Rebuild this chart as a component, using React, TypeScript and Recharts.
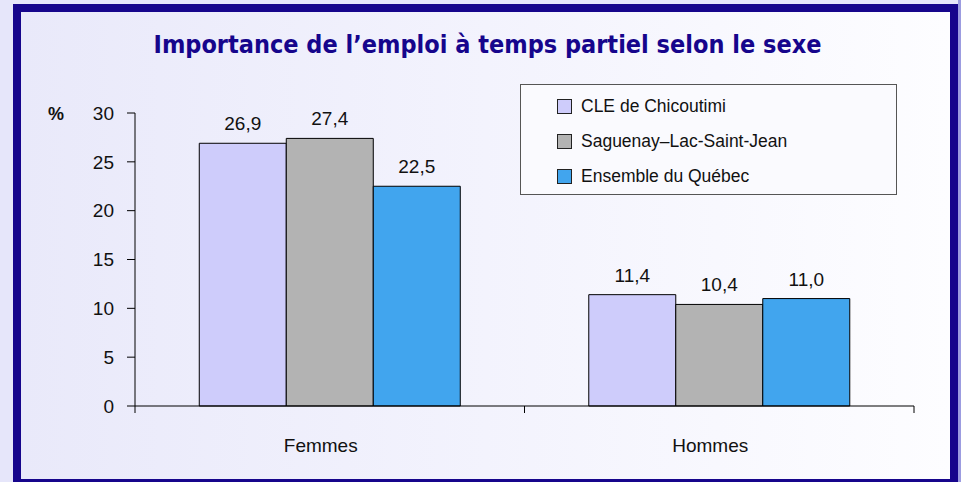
import { BarChart, Bar, XAxis, YAxis, Legend, LabelList } from 'recharts'

const categories = ['Femmes', 'Hommes']
const chicoutimi = [26.9, 11.4]
const saguenay = [27.4, 10.4]
const quebec = [22.5, 11.0]
const yTicks = [0, 5, 10, 15, 20, 25, 30]

const series = [
  { key: 'chicoutimi', name: 'CLE de Chicoutimi', color: '#CECCFB', values: chicoutimi },
  { key: 'saguenay', name: 'Saguenay–Lac-Saint-Jean', color: '#B3B3B3', values: saguenay },
  { key: 'quebec', name: 'Ensemble du Québec', color: '#41A5EE', values: quebec },
]

const data = categories.map((cat, i) => {
  const row: any = { cat }
  series.forEach((s) => {
    row[s.key] = s.values[i]
  })
  return row
})

const FONT = '"Liberation Sans", Arial, sans-serif'
const NAVY = '#16058C'
const X_TICK = 7
const X_MARGIN = 26

const formatValue = (v) => (typeof v === 'number' ? v.toFixed(1).replace('.', ',') : v)

// label + tick marks at the category boundaries (Excel style)
const CategoryTick = (props) => {
  const { x, y, payload, index, visibleTicksCount, width } = props
  const band = width / (visibleTicksCount || categories.length)
  const axisY = y - X_TICK - X_MARGIN
  const left = x - band / 2
  const right = x + band / 2
  return (
    <g>
      <line x1={left} x2={left} y1={axisY} y2={axisY + X_TICK} stroke="#000" />
      {index === categories.length - 1 && (
        <line x1={right} x2={right} y1={axisY} y2={axisY + X_TICK} stroke="#000" />
      )}
      <text x={x - 9} y={y + 13} textAnchor="middle" fontSize={19} fontFamily={FONT} fill="#111">
        {payload.value}
      </text>
    </g>
  )
}

// keep the series order (recharts sorts the legend by name otherwise)
const LegendBox = ({ payload }) => {
  const items = [...(payload || [])].sort(
    (a, b) => series.findIndex((s) => s.key === a.dataKey) - series.findIndex((s) => s.key === b.dataKey),
  )
  return (
    <div
      style={{
        width: 377,
        height: 111,
        boxSizing: 'border-box',
        border: '1px solid #555',
        background: '#FAFAFE',
        paddingTop: 4,
        paddingLeft: 36,
      }}
    >
      {items.map((p) => (
        <div
          key={p.value}
          style={{ display: 'flex', alignItems: 'center', height: 35, fontFamily: FONT, fontSize: 17.5, color: '#111' }}
        >
          <span
            style={{
              display: 'inline-block',
              width: 13,
              height: 13,
              background: p.color,
              border: '1px solid #222',
              marginRight: 9,
            }}
          />
          {p.value}
        </div>
      ))}
    </div>
  )
}

export default function App() {
  return (
    <div style={{ position: 'absolute', left: 0, top: 0, width: 961, height: 482, overflow: 'hidden', background: '#E6E6FA' }}>
      <div
        style={{
          position: 'absolute',
          left: 13,
          top: 4,
          width: 945,
          height: 483,
          boxSizing: 'border-box',
          border: `8px solid ${NAVY}`,
          background: 'linear-gradient(to right, #E9E9FA 0%, #F3F3FD 50%, #FDFDFF 100%)',
        }}
      />
      <div style={{ position: 'absolute', left: 958, top: 0, width: 3, height: 482, background: '#9C9CE0' }} />
      <div
        style={{
          position: 'absolute',
          left: 0,
          top: 30,
          width: 975,
          textAlign: 'center',
          fontFamily: '"DejaVu Sans Condensed", "DejaVu Sans", sans-serif',
          fontWeight: 'bold',
          fontSize: 25,
          color: NAVY,
        }}
      >
        Importance de l’emploi à temps partiel selon le sexe
      </div>
      <div
        style={{
          position: 'absolute',
          left: 48,
          top: 104,
          fontFamily: FONT,
          fontWeight: 'bold',
          fontSize: 18,
          color: '#111',
        }}
      >
        %
      </div>
      <div style={{ position: 'absolute', left: 0, top: 0 }}>
        <BarChart
          width={961}
          height={482}
          data={data}
          margin={{ top: 113, right: 47, bottom: 36, left: 75 }}
          barCategoryGap="16.5%"
          barGap={0}
        >
          <XAxis
            dataKey="cat"
            height={40}
            axisLine={{ stroke: '#000' }}
            tickLine={false}
            tickSize={X_TICK}
            tickMargin={X_MARGIN}
            tick={<CategoryTick />}
            interval={0}
          />
          <YAxis
            width={60}
            domain={[0, 30]}
            ticks={yTicks}
            interval={0}
            axisLine={{ stroke: '#000' }}
            tickLine={{ stroke: '#000' }}
            tickSize={8}
            tickMargin={13}
            tick={{ fontSize: 19, fontFamily: FONT, fill: '#111' }}
          />
          <Legend
            layout="horizontal"
            verticalAlign="middle"
            align="center"
            content={<LegendBox />}
            wrapperStyle={{ top: 84, left: 520, width: 377, height: 111 }}
          />
          {series.map((s) => (
            <Bar
              key={s.key}
              dataKey={s.key}
              name={s.name}
              fill={s.color}
              stroke="#000"
              strokeWidth={1}
              isAnimationActive={false}
            >
              <LabelList
                dataKey={s.key}
                position="top"
                offset={13}
                formatter={formatValue}
                style={{ fontSize: 19, fontFamily: FONT, fill: '#111' }}
              />
            </Bar>
          ))}
        </BarChart>
      </div>
    </div>
  )
}
